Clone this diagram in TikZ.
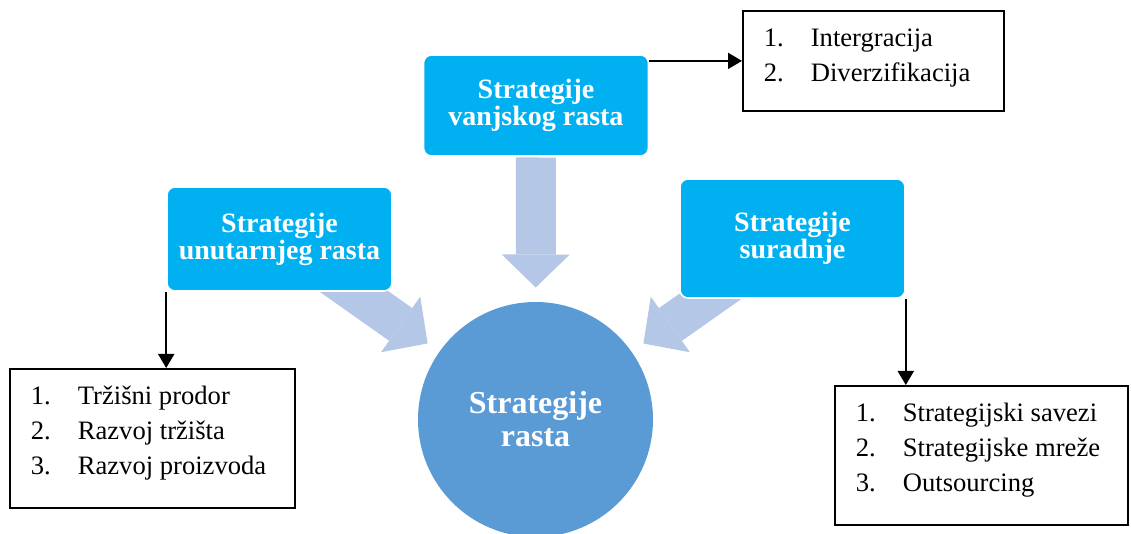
\documentclass[tikz,border=0pt]{standalone}
\usepackage{fontspec}
\setmainfont{Liberation Serif}
\usetikzlibrary{arrows.meta,backgrounds}
\definecolor{plava}{HTML}{00B0F0}
\definecolor{krug}{HTML}{5B9BD5}
\definecolor{svijetla}{HTML}{B4C7E7}
\newcommand{\stavka}[2]{\strut\makebox[23.5pt][l]{#1}#2}
\begin{document}
\begin{tikzpicture}[x=0.5pt,y=-0.5pt,
        strategija/.style={fill=plava,draw=white,line width=0.8pt,rounded corners=4pt,text=white,align=center,
            font=\bfseries\fontsize{14}{13.5}\selectfont,minimum width=112.5pt,inner sep=0pt},
        lista/.style={draw=black,line width=0.9pt,anchor=north west,inner xsep=10.5pt,inner ysep=5.5pt,
            font=\fontsize{13.3}{17.5}\selectfont},
        blok/.style={svijetla,line width=20pt,shorten <=26pt,shorten >=66pt,
            -{Triangle[length=16.5pt,width=34pt,line width=0pt]}},
        strelica/.style={line width=1pt,-{Triangle[length=7pt,width=8pt]}}]
        \useasboundingbox (0,0) rectangle (1131,534);
        % strategije
        \node[strategija,minimum height=50.5pt] (vanjski) at (536,105.5) {Strategije\\vanjskog rasta};
        \node[strategija,minimum height=52pt] (unutarnji) at (279.5,239) {Strategije\\unutarnjeg rasta};
        \node[strategija,minimum height=59.5pt] (suradnja) at (792.5,238.5) {Strategije\\suradnje};
        \node[circle,fill=krug,minimum size=117.5pt,inner sep=0pt,text=white,align=center,
            font=\bfseries\fontsize{16}{16.5}\selectfont] (rast) at (535.5,419.5) {Strategije\\rasta};
        % liste
        \node[lista] (lvanj) at (742,10) {\parbox[t][39pt][t]{109.5pt}{\stavka{1.}{Intergracija}\\\stavka{2.}{Diverzifikacija}}};
        \node[lista] (lunut) at (9,368) {\parbox[t][58.5pt][t]{121.5pt}{\stavka{1.}{Tržišni prodor}\\\stavka{2.}{Razvoj tržišta}\\\stavka{3.}{Razvoj proizvoda}}};
        \node[lista] (lsurad) at (834,385) {\parbox[t][58.5pt][t]{125.5pt}{\stavka{1.}{Strategijski savezi}\\\stavka{2.}{Strategijske mreže}\\\stavka{3.}{Outsourcing}}};
        % strelice
        \draw[strelica] (vanjski.east |- lvanj.west) -- (lvanj.west);
        \draw[strelica] (unutarnji.south west) -- (unutarnji.south west |- lunut.north);
        \draw[strelica] (suradnja.south east) -- (suradnja.south east |- lsurad.north);
        \begin{scope}[on background layer]
            \draw[blok] (vanjski.center) -- (rast.center);
            \draw[blok] (unutarnji.center) -- (rast.center);
            \draw[blok] (suradnja.center) -- (rast.center);
        \end{scope}
    \end{tikzpicture}
\end{document}
